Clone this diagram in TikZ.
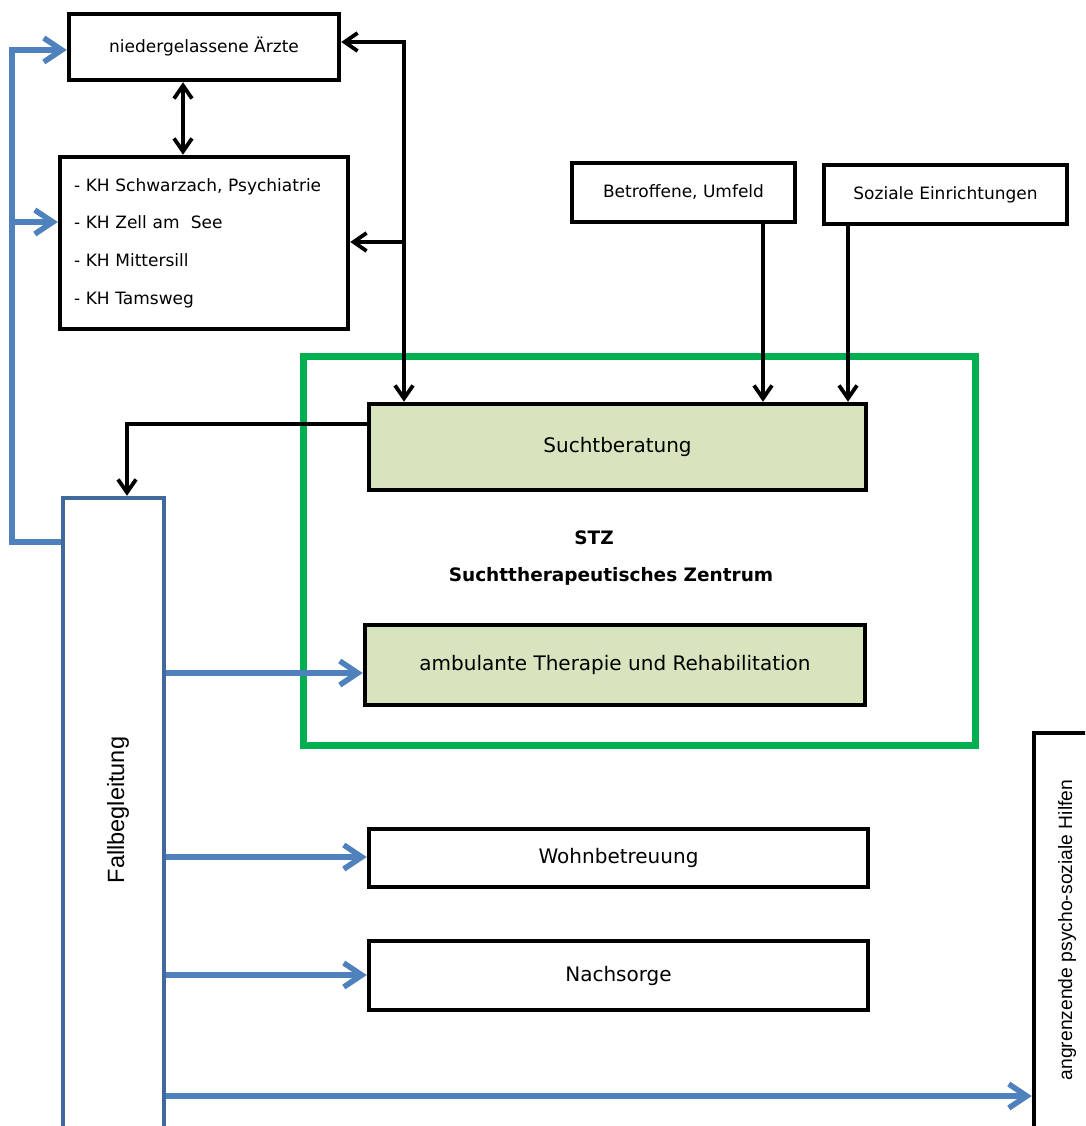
\documentclass[tikz,border=0pt]{standalone}
\usepackage{fontspec}
\setmainfont{DejaVu Sans}
\newfontfamily\arialfont{Liberation Sans}
\usetikzlibrary{arrows.meta}
\definecolor{stzgreen}{HTML}{00B050}
\definecolor{boxgreen}{HTML}{D7E4BD}
\definecolor{linkblue}{HTML}{4F81BD}
\definecolor{frameblue}{HTML}{41699B}
\begin{document}
\begin{tikzpicture}[x=1pt,y=-1pt,
  box/.style={draw=black,line width=4.5pt,fill=white,minimum width=#1},
  box/.default=100pt,
  greenbox/.style={box=#1,fill=boxgreen},
  smalltext/.style={font=\fontsize{17}{20}\selectfont},
  bigtext/.style={font=\fontsize{20}{24}\selectfont},
  blk/.style={draw=black,line width=3.8pt,
    arrows={-Straight Barb[length=13pt,width=18pt]}},
  blkboth/.style={draw=black,line width=3.8pt,
    arrows={Straight Barb[length=13pt,width=18pt]-Straight Barb[length=13pt,width=18pt]}},
  blu/.style={draw=linkblue,line width=5.5pt,
    arrows={-Straight Barb[length=18pt,width=24pt]}}]
\clip (0,0) rectangle (1085,1126);
\fill[white] (0,0) rectangle (1085,1126);

% Sender boxes at the top
\node[box=270pt,minimum height=66pt,smalltext] (arzte) at (204,47) {niedergelassene Ärzte};
\node[box=288pt,minimum height=172pt,smalltext,align=left,text width=260pt,
  font=\fontsize{17}{37.7}\selectfont] (kh) at (204,243)
  {- KH Schwarzach, Psychiatrie\\- KH Zell am\ \ See\\- KH Mittersill\\- KH Tamsweg};
\node[box=223pt,minimum height=59pt,smalltext] (betr) at (683.5,192.5) {Betroffene, Umfeld};
\node[box=243pt,minimum height=59pt,smalltext] (soz) at (945.5,194.5) {Soziale Einrichtungen};

% STZ frame with its two services
\node[draw=stzgreen,line width=7.5pt,minimum width=672pt,minimum height=389pt] (stz) at (639.5,551) {};
\node[font=\fontsize{18.5}{22}\selectfont\bfseries] (stzabbr) at (594,538) {STZ};
\node[font=\fontsize{18.5}{22}\selectfont\bfseries] (stzname) at (611,576) {Suchttherapeutisches Zentrum};
\node[greenbox=497pt,minimum height=86pt,bigtext] (sucht) at (617.5,447) {Suchtberatung};
\node[greenbox=500pt,minimum height=80pt,bigtext] (amb) at (615,665) {ambulante Therapie und Rehabilitation};

% Further services
\node[box=499pt,minimum height=58pt,bigtext] (wohn) at (618.5,858) {Wohnbetreuung};
\node[box=499pt,minimum height=69pt,bigtext] (nach) at (618.5,975.5) {Nachsorge};

% Case management column and neighbouring services
\node[draw=frameblue,line width=4.5pt,fill=white,minimum width=101pt,minimum height=660pt] (fall) at (113.5,828) {};
\node[rotate=90,font=\arialfont\fontsize{23.5}{28}\selectfont] (falltxt) at (118,810) {Fallbegleitung};
\node[draw=black,line width=4.5pt,fill=white,minimum width=106pt,minimum height=420pt] (angr) at (1087,943) {};
\node[rotate=90,font=\arialfont\fontsize{19.3}{23}\selectfont] (angrtxt) at (1067,930) {angrenzende psycho-soziale Hilfen};

% Black connectors
\coordinate (rail) at (404,42);
\coordinate (railkh) at (404,242);
\coordinate (dA) at (183,0);
\coordinate (xb) at (763,0);
\coordinate (xs) at (848,0);
\coordinate (sb) at (127,424);
\draw[blkboth] (arzte.east |- rail) -- (rail) -- (rail |- sucht.north);
\draw[blk] (railkh) -- (kh.east |- railkh);
\draw[blkboth] (arzte.south -| dA) -- (kh.north -| dA);
\draw[blk] (betr.south -| xb) -- (sucht.north -| xb);
\draw[blk] (soz.south -| xs) -- (sucht.north -| xs);
\draw[blk] (sucht.west |- sb) -- (sb) -- (sb |- fall.north);

% Blue connectors
\coordinate (bt) at (12,50);
\coordinate (bk) at (12,222);
\coordinate (bf) at (12,542);
\coordinate (y1) at (0,673);
\coordinate (y2) at (0,857);
\coordinate (y3) at (0,975);
\coordinate (y4) at (0,1096);
\draw[blu] (fall.west |- bf) -- (bf) -- (bt) -- (arzte.west |- bt);
\draw[blu] (bk) -- (kh.west |- bk);
\draw[blu] (fall.east |- y1) -- (amb.west |- y1);
\draw[blu] (fall.east |- y2) -- (wohn.west |- y2);
\draw[blu] (fall.east |- y3) -- (nach.west |- y3);
\draw[blu] (fall.east |- y4) -- (angr.west |- y4);
\end{tikzpicture}
\end{document}
